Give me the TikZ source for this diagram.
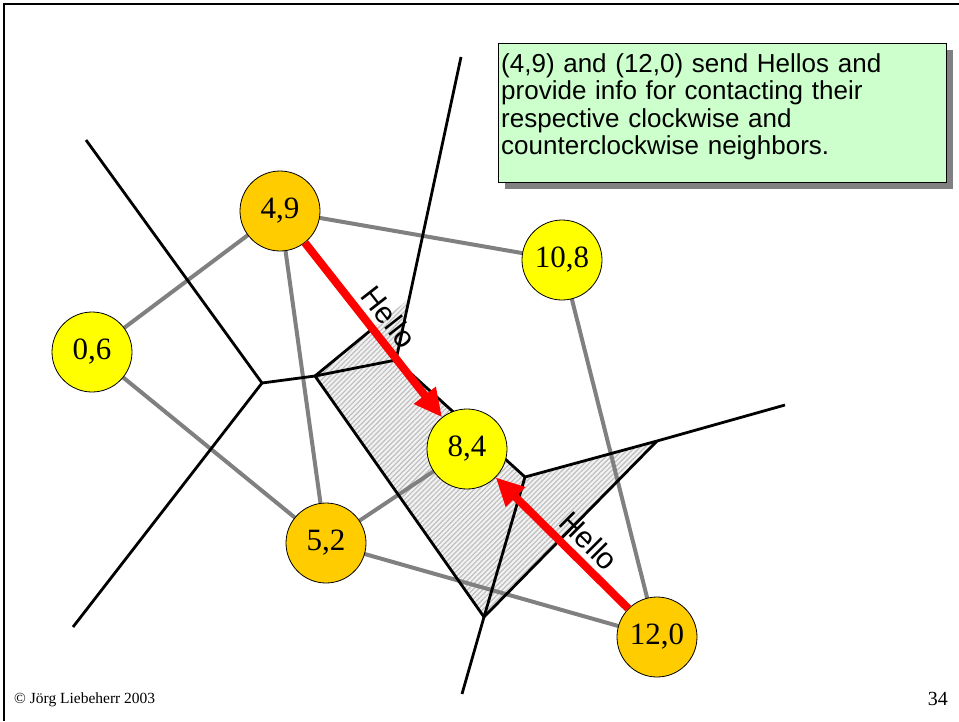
\documentclass[tikz,border=0pt]{standalone}
\usepackage{fontspec}
\setmainfont{Liberation Serif}
\newfontfamily\arialfont{Liberation Sans}
\usetikzlibrary{arrows.meta,patterns.meta}
\definecolor{peerorange}{HTML}{FFCC00}
\definecolor{peeryellow}{HTML}{FFFF00}
\definecolor{notegreen}{HTML}{CCFFCC}
\pgfdeclarelayer{cell}
\pgfdeclarelayer{links}
\pgfsetlayers{cell,links,main}
\begin{document}
\begin{tikzpicture}[x=1pt,y=-1pt,
  peer/.style={circle,draw=black,line width=0.8pt,minimum size=80pt,inner sep=0pt,
    font=\fontsize{31}{31}\selectfont},
  oldpeer/.style={peer,fill=peeryellow},
  sender/.style={peer,fill=peerorange},
  delaunay/.style={draw=gray,line width=4pt},
  cellborder/.style={draw=black,line width=2.8pt},
  hello/.style={draw=red,line width=8pt,-{Triangle[length=28pt,width=26pt]}},
  hellolabel/.style={font=\arialfont\fontsize{30}{30}\selectfont,inner sep=0pt},
  notetext/.style={font=\arialfont\fontsize{26}{27.5}\selectfont,align=left,
    text width=444pt,inner sep=0pt,anchor=north west}]
\useasboundingbox (0,0) rectangle (959,721);

% page frame
\draw[line width=2.5pt] (4,721) -- (4,4) -- (959,4);

% peers
\node[oldpeer] (n06) at (92,352) {0,6};
\node[sender] (n49) at (280,211) {4,9};
\node[oldpeer] (n108) at (562,260) {10,8};
\node[oldpeer] (n84) at (467,449) {8,4};
\node[sender] (n52) at (326,543) {5,2};
\node[sender] (n120) at (657,637) {12,0};

% Voronoi vertices and open ends
\coordinate (p1) at (86,140);
\coordinate (p2) at (73,627);
\coordinate (p3) at (461,57);
\coordinate (p4) at (785,405);
\coordinate (p5) at (462,694);
\coordinate (v1) at (262,383);
\coordinate (va) at (315,376);
\coordinate (vb) at (408.6,299);
\coordinate (vc) at (396,360);
\coordinate (vd) at (525,477);
\coordinate (ve) at (657,441);
\coordinate (vf) at (484,617);
\coordinate (vg) at (371,330);

% new cell of the joining peer
\begin{pgfonlayer}{cell}
\fill[gray!10] (va) -- (vb) -- (vc) -- (vd) -- (ve) -- (vf) -- cycle;
\fill[pattern={Lines[angle=45,distance=3.5pt,line width=1.2pt]},pattern color=gray!50]
  (va) -- (vb) -- (vc) -- (vd) -- (ve) -- (vf) -- cycle;
\end{pgfonlayer}

\begin{pgfonlayer}{links}
% neighbour links
\path[delaunay] (n49.center) -- (n06.center);
\path[delaunay] (n49.center) -- (n108.center);
\path[delaunay] (n49.center) -- (n52.center);
\path[delaunay] (n06.center) -- (n52.center);
\path[delaunay] (n52.center) -- (n84.center);
\path[delaunay] (n52.center) -- (n120.center);
\path[delaunay] (n108.center) -- (n120.center);
% Voronoi edges
\path[cellborder] (p1) -- (v1) -- (p2);
\path[cellborder] (v1) -- (va) -- (vc) -- (p3);
\path[cellborder] (vc) -- (vd) -- (ve) -- (p4);
\path[cellborder] (vd) -- (vf) -- (p5);
\path[cellborder] (ve) -- (vf) -- (va) -- (vg);
\end{pgfonlayer}

% Hello messages
\draw[hello] (n49) -- (n84);
\draw[hello] (n120) -- (n84);
\node[hellolabel,rotate=-52] (h1) at (389,317) {Hello};
\node[hellolabel,rotate=-45] (h2) at (589,541) {Hello};

% explanatory note
\fill[gray] (505,50) rectangle (953,189);
\draw[fill=notegreen,line width=0.8pt] (498,43) rectangle (946,182);
\node[notetext] (note) at (501,53) {(4,9) and (12,0) send Hellos and\\
provide info for contacting their\\
respective clockwise and\\
counterclockwise neighbors.};

% footer
\node[anchor=base west,font=\fontsize{15.5}{16}\selectfont,inner sep=0pt] (copy) at (14,703) {\textcopyright{} Jörg Liebeherr 2003};
\node[anchor=base east,font=\fontsize{20}{20}\selectfont,inner sep=0pt] (page) at (948,705) {34};
\end{tikzpicture}
\end{document}
